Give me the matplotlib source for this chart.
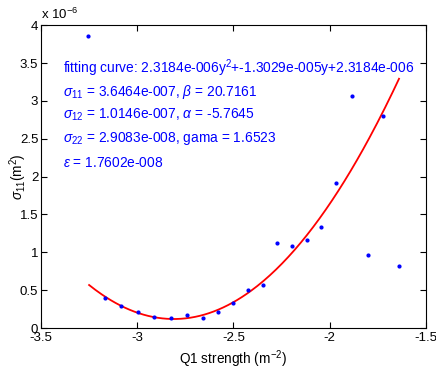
import numpy as np
import matplotlib
matplotlib.use("Agg")
import matplotlib.pyplot as plt

plt.rcParams['font.family'] = ['Liberation Sans', 'DejaVu Sans']
plt.rcParams['mathtext.fontset'] = 'custom'
plt.rcParams['mathtext.rm'] = 'Liberation Sans'
plt.rcParams['mathtext.it'] = 'Liberation Sans:italic'

# measured points (y in units of 1e-6 m^2)
q1_strength = [-3.256, -3.168, -3.084, -2.998, -2.911, -2.826, -2.740, -2.660,
               -2.579, -2.501, -2.423, -2.348, -2.272, -2.198, -2.120, -2.045,
               -1.968, -1.886, -1.803, -1.723, -1.639]
sigma11 = [3.855, 0.40, 0.29, 0.215, 0.15, 0.137, 0.176, 0.132,
           0.215, 0.334, 0.50, 0.563, 1.122, 1.078, 1.162, 1.338,
           1.918, 3.067, 0.964, 2.80, 0.818]

# quadratic fit coefficients (units of 1e-6) and range of the drawn curve
fit_a, fit_b, fit_c = 2.3184, 13.029, 18.424
fit_range = (-3.25, -1.64)

xticks = [-3.5, -3, -2.5, -2, -1.5]
yticks = [0, 0.5, 1, 1.5, 2, 2.5, 3, 3.5, 4]

info_lines = [
    r'fitting curve: 2.3184e-006y$^{2}$+-1.3029e-005y+2.3184e-006',
    r'$\sigma_{11}$ = 3.6464e-007, $\beta$ = 20.7161',
    r'$\sigma_{12}$ = 1.0146e-007, $\alpha$ = -5.7645',
    r'$\sigma_{22}$ = 2.9083e-008, gama = 1.6523',
    r'$\epsilon$ = 1.7602e-008',
]
info_y = [0.842, 0.766, 0.690, 0.614, 0.531]

fig = plt.figure(figsize=(4.36, 3.70), dpi=100)
ax = fig.add_axes([0.094, 0.1135, 0.883, 0.8185])

xf = np.linspace(fit_range[0], fit_range[1], 200)
yf = fit_a * xf ** 2 + fit_b * xf + fit_c
ax.plot(xf, yf, color='red', lw=1.3)
ax.plot(q1_strength, sigma11, '.', color='blue', ms=4)

ax.set_xlim(-3.5, -1.5)
ax.set_ylim(0, 4)
ax.set_xticks(xticks)
ax.set_xticklabels([f'{v:g}' for v in xticks])
ax.set_yticks(yticks)
ax.set_yticklabels([f'{v:g}' for v in yticks])
ax.tick_params(direction='in', top=True, right=True, length=4, labelsize=9.5, pad=2)
ax.tick_params(axis='x', pad=3)
for s in ax.spines.values():
    s.set_linewidth(0.8)

for txt, yy in zip(info_lines, info_y):
    ax.text(0.057, yy, txt, transform=ax.transAxes, color='blue', fontsize=9.9,
            va='baseline', ha='left')

ax.text(0.0, 1.012, r'x 10$^{-6}$', transform=ax.transAxes, fontsize=9.5,
        va='bottom', ha='left')

ax.set_xlabel(r'Q1 strength (m$^{-2}$)', fontsize=9.8, labelpad=3)
ax.set_ylabel(r'$\sigma_{11}$(m$^{2}$)', fontsize=9.8)
ax.yaxis.set_label_coords(-0.03, 0.5)

fig.savefig('out.png', dpi=100)
